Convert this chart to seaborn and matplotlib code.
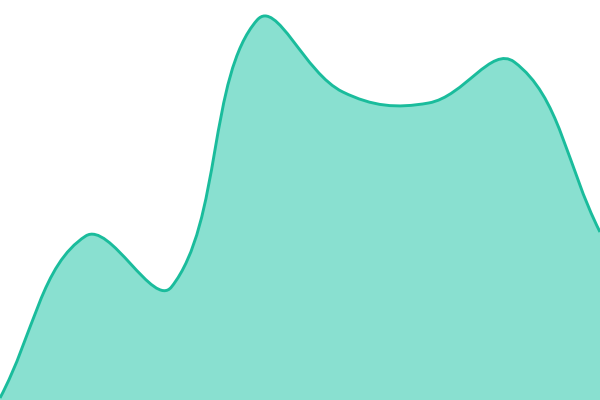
import numpy as np
import matplotlib
matplotlib.use("Agg")
import matplotlib.pyplot as plt
from matplotlib.path import Path
from matplotlib.patches import PathPatch
import seaborn as sns

# values (one per evenly spaced step)
steps = [0, 1, 2, 3, 4, 5, 6, 7]
values = [2, 164, 113, 380, 308, 297, 338, 168]

line_color = "#1abc9c"
fill_color = "#89e0d0"
tension = 0.4

sns.set_style("white")

fig = plt.figure(figsize=(6, 4), dpi=100)
ax = fig.add_axes([0, 0, 1, 1])
ax.set_xlim(steps[0], steps[-1])
ax.set_ylim(0, 400)
ax.axis("off")

# smooth curve: control points like a chart.js spline, worked out in screen space
pts = ax.transData.transform(np.column_stack([steps, values]).astype(float))
n = len(pts)
ctrl_prev = pts.copy()
ctrl_next = pts.copy()
for i in range(n):
    p0 = pts[max(i - 1, 0)]
    p1 = pts[i]
    p2 = pts[min(i + 1, n - 1)]
    d01 = np.hypot(*(p1 - p0))
    d12 = np.hypot(*(p2 - p1))
    total = d01 + d12
    if total == 0:
        continue
    fa = tension * d01 / total
    fb = tension * d12 / total
    ctrl_prev[i] = p1 - fa * (p2 - p0)
    ctrl_next[i] = p1 + fb * (p2 - p0)

inv = ax.transData.inverted()
verts = [pts[0]]
codes = [Path.MOVETO]
for i in range(n - 1):
    verts += [ctrl_next[i], ctrl_prev[i + 1], pts[i + 1]]
    codes += [Path.CURVE4] * 3
verts = [tuple(v) for v in inv.transform(np.array(verts))]

line_path = Path(verts, codes)
fill_path = Path(
    verts + [(steps[-1], 0), (steps[0], 0), verts[0]],
    codes + [Path.LINETO, Path.LINETO, Path.CLOSEPOLY],
)

ax.add_patch(PathPatch(fill_path, facecolor=fill_color, edgecolor="none"))
ax.add_patch(PathPatch(line_path, facecolor="none", edgecolor=line_color, linewidth=2.1))

fig.savefig("out.png", dpi=100)
